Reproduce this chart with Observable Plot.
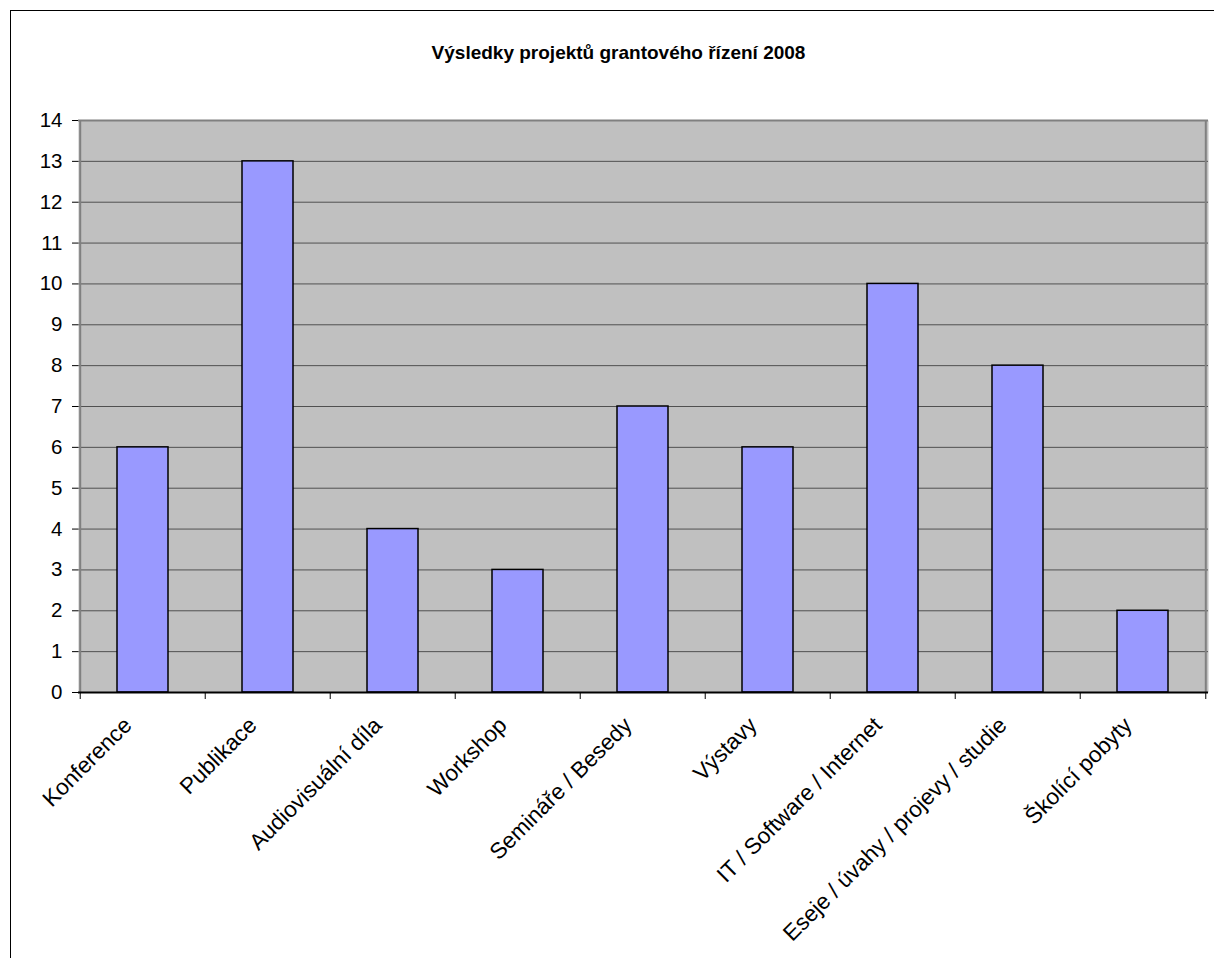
<!DOCTYPE html>
<html>
<head>
<meta charset="utf-8">
<script src="https://cdn.jsdelivr.net/npm/d3@7"></script>
<script src="https://cdn.jsdelivr.net/npm/@observablehq/plot@0.6"></script>
<style>
  html, body { margin: 0; padding: 0; background: #fff; overflow: hidden; }
  #wrap { position: relative; width: 1214px; height: 958px; }
  #frame { position: absolute; left: 10px; top: 10px; width: 1230px; height: 980px; border: 1.5px solid #000; box-sizing: border-box; pointer-events: none; }
  svg { display: block; }
</style>
</head>
<body>
<div id="wrap"><div id="frame"></div></div>
<script>
const title = "Výsledky projektů grantového řízení 2008";
const categories = ["Konference", "Publikace", "Audiovisuální díla", "Workshop", "Semináře / Besedy", "Výstavy", "IT / Software / Internet", "Eseje / úvahy / projevy / studie", "Školící pobyty"];
const values = [6, 13, 4, 3, 7, 6, 10, 8, 2];
const yTicks = [0, 1, 2, 3, 4, 5, 6, 7, 8, 9, 10, 11, 12, 13, 14];

const data = categories.map((c, i) => ({category: c, value: values[i]}));

const W = 1214, H = 958;
const mL = 78, mR = 6, mT = 120, mB = 266;
const step = (W - mL - mR) / categories.length;

const chart = Plot.plot({
  width: W,
  height: H,
  marginLeft: mL,
  marginRight: mR,
  marginTop: mT,
  marginBottom: mB,
  style: {fontFamily: "'Liberation Sans', Arial, sans-serif", color: "#000", background: "transparent"},
  x: {domain: categories, paddingInner: 0.59, paddingOuter: 0.295, label: null},
  y: {domain: [0, 14], label: null},
  marks: [
    Plot.frame({fill: "#C0C0C0", stroke: "none"}),
    Plot.ruleY(yTicks.slice(1), {stroke: "#505050", strokeWidth: 1}),
    Plot.ruleY([14], {stroke: "#808080", strokeWidth: 2}),
    Plot.ruleX([categories[categories.length - 1]], {dx: step / 2, stroke: "#808080", strokeWidth: 2}),
    Plot.barY(data, {x: "category", y: "value", fill: "#9999FF", stroke: "#000", strokeWidth: 1.5}),
    Plot.ruleX([categories[0]], {dx: -step / 2, stroke: "#808080", strokeWidth: 2}),
    Plot.ruleY([0], {stroke: "#000", strokeWidth: 2}),
    Plot.axisY({ticks: yTicks, tickSize: 6, tickPadding: 10, fontSize: 20.5, tickFormat: d => String(d), stroke: "#000"}),
    Plot.ruleX(categories, {x: d => d, dx: -step / 2, y1: 0, y2: 0, insetBottom: -7, stroke: "#000"}),
    Plot.ruleX([categories[categories.length - 1]], {x: d => d, dx: step / 2, y1: 0, y2: 0, insetBottom: -7, stroke: "#000"}),
    Plot.axisX({tickSize: 0, tickPadding: 29, tickRotate: -45, fontSize: 22.5, textAnchor: "end", dx: -15}),
    Plot.text([title], {frameAnchor: "top", dy: -75, dx: -25, fontSize: 19, fontWeight: "bold", text: d => d})
  ]
});
document.getElementById("wrap").prepend(chart);
</script>
</body>
</html>
